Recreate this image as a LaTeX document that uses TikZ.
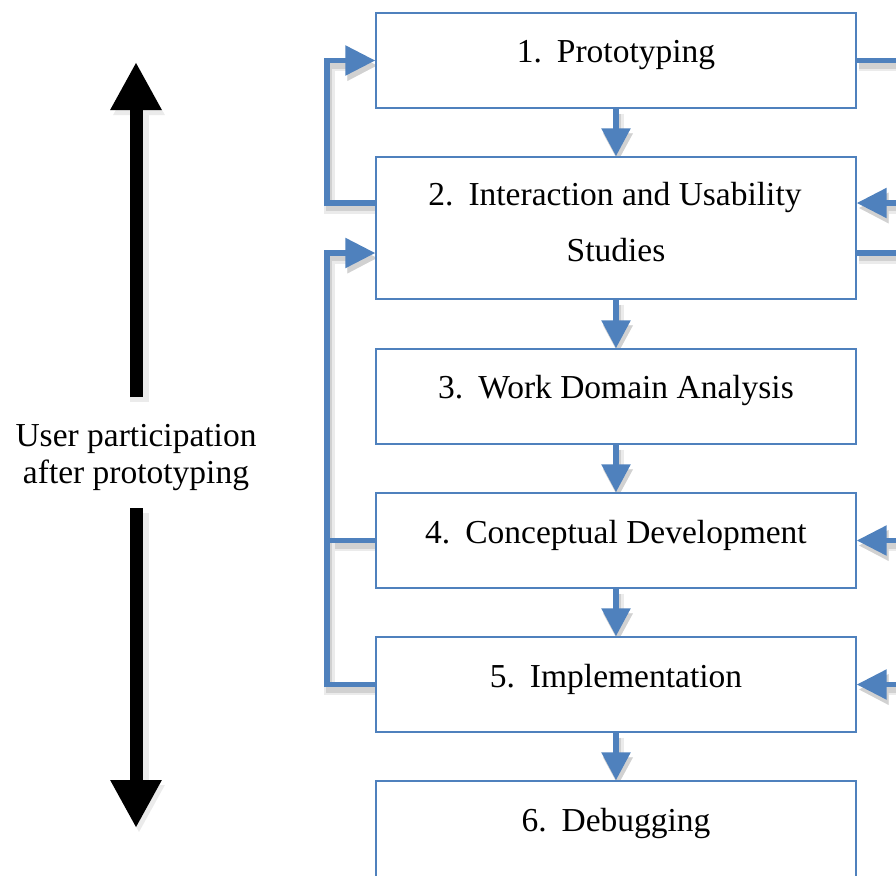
\documentclass[tikz,border=0pt]{standalone}
\usepackage{fontspec}
\setmainfont{Liberation Serif}
\usetikzlibrary{arrows.meta}
\definecolor{flowblue}{HTML}{4F81BD}
\pgfdeclarelayer{bg}
\pgfsetlayers{bg,main}
\newcommand\conpath[2]{%
  \begin{pgfonlayer}{bg}
    \draw[shadowwide,#1] #2;
    \draw[shadownarrow,#1] #2;
  \end{pgfonlayer}
  \draw[conn,#1] #2;}
\begin{document}
\begin{tikzpicture}[x=1pt,y=-1pt,
  box/.style={draw=flowblue, line width=1.4pt, minimum width=480pt, inner sep=0pt, fill=white},
  txt/.style={font=\fontsize{33.5}{40}\selectfont, anchor=base, inner sep=0pt},
  conn/.style={draw=flowblue, line width=5.5pt},
  shadowwide/.style={draw=black!8, line width=11pt, transform canvas={shift={(2pt,-5pt)}}},
  shadownarrow/.style={draw=black!18, line width=6pt, transform canvas={shift={(2pt,-5pt)}}},
  tipd/.style={-{Triangle[length=28pt,width=28pt]}},
  tiph/.style={-{Triangle[length=30pt,width=29pt]}},
  bigarrow/.style={draw=black, line width=13pt, -{Triangle[length=48pt,width=48pt]}}]

\useasboundingbox (0,0) rectangle (896,875);

% boxes
\node[box, minimum height=95pt]  (b1) at (616,60.5) {};
\node[box, minimum height=142pt] (b2) at (616,228) {};
\node[box, minimum height=95pt]  (b3) at (616,396.5) {};
\node[box, minimum height=95pt]  (b4) at (616,540.5) {};
\node[box, minimum height=95pt]  (b5) at (616,684.5) {};
\node[box, minimum height=100pt] (b6) at (616,831) {};

% box texts
\node[txt] (t1)  at (616,63)  {1.\hspace{15pt}Prototyping};
\node[txt] (t2a) at (615,205) {2.\hspace{15pt}Interaction and Usability};
\node[txt] (t2b) at (616,261) {Studies};
\node[txt] (t3)  at (616,398) {3.\hspace{15pt}Work Domain Analysis};
\node[txt] (t4)  at (616,543) {4.\hspace{15pt}Conceptual Development};
\node[txt] (t5)  at (616,687) {5.\hspace{15pt}Implementation};
\node[txt] (t6)  at (616,831) {6.\hspace{15pt}Debugging};

% helper coordinates
\coordinate (lx) at (327,0);
\coordinate (rx) at (910,0);
\coordinate (k1) at (327,203);
\coordinate (k3) at (327,684.5);
\coordinate (r2in) at (910,203);
\coordinate (r2out) at (910,253);

% down arrows
\conpath{tipd}{(b1.south) -- (b2.north)}
\conpath{tipd}{(b2.south) -- (b3.north)}
\conpath{tipd}{(b3.south) -- (b4.north)}
\conpath{tipd}{(b4.south) -- (b5.north)}
\conpath{tipd}{(b5.south) -- (b6.north)}

% left feedback
\conpath{tiph}{([yshift=25pt]b2.west) -- (k1) |- (b1.west)}
\conpath{}{(b4.west) -- (b4.west -| lx)}
\conpath{tiph}{(b5.west) -- (k3) |- ([yshift=-25pt]b2.west)}

% right side
\conpath{}{(b1.east) -- (b1.east -| rx)}
\conpath{tiph}{(r2in) -- ([yshift=25pt]b2.east)}
\conpath{}{([yshift=-25pt]b2.east) -- (r2out)}
\conpath{tiph}{(b4.east -| rx) -- (b4.east)}
\conpath{tiph}{(b5.east -| rx) -- (b5.east)}

% user participation arrows
\coordinate (us) at (136,397);
\coordinate (ut) at (136,62);
\coordinate (ds) at (136,508);
\coordinate (dt) at (136,828);
\begin{pgfonlayer}{bg}
  \draw[bigarrow, draw=black!8, fill=black!8, line width=19pt, transform canvas={shift={(3pt,-5pt)}}] (us) -- (ut);
  \draw[bigarrow, draw=black!8, fill=black!8, line width=19pt, transform canvas={shift={(3pt,-5pt)}}] (ds) -- (dt);
\end{pgfonlayer}
\draw[bigarrow] (us) -- (ut);
\draw[bigarrow] (ds) -- (dt);

\node[txt] (u1) at (136,446) {User participation};
\node[txt] (u2) at (136,483) {after prototyping};

\end{tikzpicture}
\end{document}
